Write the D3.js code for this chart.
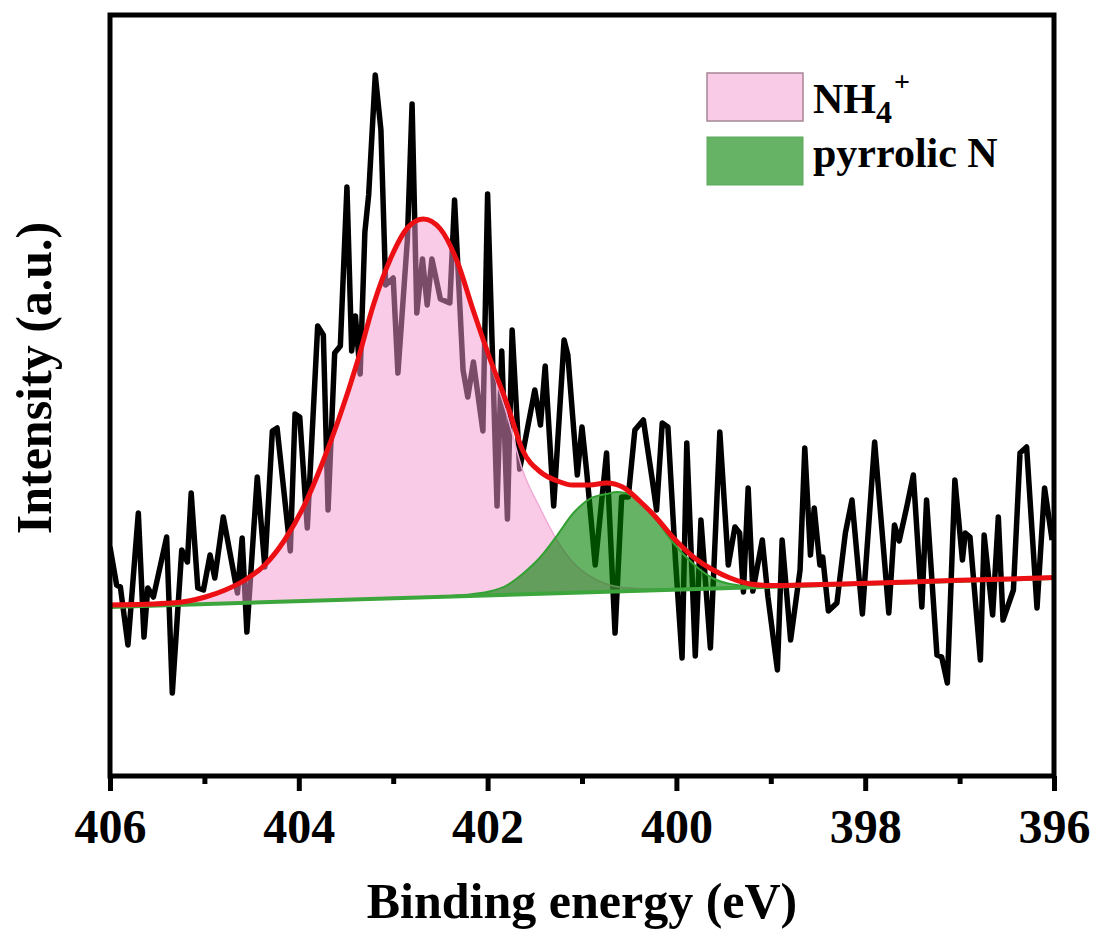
<!DOCTYPE html>
<html><head><meta charset="utf-8">
<script src="https://cdn.jsdelivr.net/npm/d3@7"></script>
<style>
body{margin:0;background:#fff}
text{font-family:"Liberation Serif","Times New Roman",serif;font-weight:bold;fill:#000}
</style>
</head><body>
<svg id="c" width="1098" height="936"></svg>
<script>
// Raw spectrum (binding energy, eV / intensity, a.u.)
const spectrumE = [406.00,405.93,405.89,405.81,405.70,405.64,405.60,405.54,405.40,405.34,
405.24,405.18,405.14,405.07,405.01,404.94,404.89,404.80,404.65,404.60,
404.55,404.44,404.36,404.28,404.23,404.09,404.04,403.99,403.91,403.80,
403.74,403.69,403.62,403.56,403.49,403.44,403.40,403.35,403.30,403.26,
403.19,403.13,403.08,403.00,402.95,402.85,402.80,402.75,402.69,402.64,
402.59,402.50,402.40,402.35,402.26,402.21,402.15,402.05,402.00,401.90,
401.85,401.79,401.74,401.66,401.50,401.44,401.39,401.30,401.19,401.15,
401.05,401.00,400.95,400.86,400.74,400.65,400.58,400.51,400.44,400.35,
400.26,400.21,400.15,400.09,400.01,399.94,399.89,399.80,399.74,399.64,
399.54,399.45,399.38,399.33,399.29,399.24,399.19,399.09,399.03,398.93,
398.88,398.79,398.69,398.64,398.58,398.54,398.48,398.45,398.39,398.30,
398.21,398.14,398.03,397.90,397.75,397.69,397.64,397.56,397.49,397.40,
397.35,397.24,397.19,397.13,397.05,396.97,396.94,396.89,396.78,396.74,
396.65,396.59,396.54,396.43,396.36,396.29,396.18,396.10,396.02];
const spectrumI = [228,190,188,130,262,138,187,178,238,82,
225,213,282,187,185,220,197,258,182,237,
143,298,208,344,347,224,361,358,247,449,
440,265,422,429,588,424,459,401,543,580,
700,645,490,497,402,535,671,462,516,470,
516,476,472,575,405,378,413,344,581,269,
424,256,445,306,385,350,409,269,435,420,
300,348,303,210,322,142,278,278,345,355,
298,265,352,348,215,117,332,119,255,127,
343,210,248,242,183,287,184,235,178,105,
235,135,205,327,220,267,210,218,164,172,
242,275,161,333,162,250,234,268,300,168,
275,120,118,92,295,215,242,238,115,240,
160,258,155,185,322,328,167,287,235];

// Fitted envelope (red)
const envE = [406.00,405.34,404.99,404.78,404.57,404.36,404.15,403.93,403.75,403.58,403.38,403.21,403.03,402.85,402.68,402.50,402.32,402.15,401.97,401.79,401.63,401.44,401.26,401.10,400.92,400.74,400.57,400.39,400.21,400.04,399.82,399.61,399.43,399.22,399.01,398.69,398.16,397.10,396.00];
const envI = [170,172,178,185,195,210,235,272,312,355,413,470,516,547,556,546,513,464,415,370,325,303,294,290,290,292,288,274,257,238,218,205,197,191,189.5,190,191.2,194.4,197.4];

// NH4+ component (pink)
const nh4E = [406.00,405.34,404.99,404.78,404.57,404.36,404.15,403.93,403.75,403.58,403.38,403.21,403.03,402.85,402.68,402.50,402.32,402.15,401.97,401.79,401.63,401.44,401.26,401.10,400.92,400.74,400.57,400.28,399.75];
const nh4I = [170,172,178,185,195,210,235,272,312,355,413,470,516,547,556,546,513,462,411,359,305,266,234,213,199,191,187.5,186,186.2];

// pyrrolic N component (green)
const pyrE = [402.50,402.15,401.97,401.79,401.63,401.44,401.26,401.10,400.92,400.74,400.63,400.46,400.39,400.21,400.04,399.82,399.61,399.43,399.22,398.90];
const pyrI = [178.6,181,183.7,190,201,218,240,261,276,281,283,279,273,255,233,211,196.5,191,189,188.7];

// Linear background
const bgE = [406, 396];
const bgI = [168, 197];

const xTicks = [406,404,402,400,398,396];
const xMinor = [405,403,401,399,397];
const legendLabels = ["NH4+","pyrrolic N"];

const svg = d3.select("#c");
const L=110, R=1054, T=15, B=776;
const x = d3.scaleLinear().domain([406,396]).range([L,R]);
const y = d3.scaleLinear().domain([0,760]).range([775,15]);
const bg = d3.scaleLinear().domain(bgE).range(bgI);

svg.append("defs").append("clipPath").attr("id","clip")
  .append("rect").attr("x",L).attr("y",T).attr("width",R-L).attr("height",B-T);
const g = svg.append("g").attr("clip-path","url(#clip)");

const spec = spectrumE.map((e,i)=>({e, v:spectrumI[i]}));
const env = envE.map((e,i)=>({e, v:envI[i]}));
const nh4 = nh4E.map((e,i)=>({e, v:nh4I[i]}));
const pyr = pyrE.map((e,i)=>({e, v:pyrI[i]}));

// raw data
g.append("path").datum(spec)
  .attr("d", d3.line().x(d=>x(d.e)).y(d=>y(d.v)))
  .attr("fill","none").attr("stroke","#000").attr("stroke-width",5.5)
  .attr("stroke-linejoin","round");

const PINK = "rgb(246,152,206)", GREEN = "rgb(0,128,0)";
// NH4+ area
g.append("path").datum(nh4)
  .attr("d", d3.area().curve(d3.curveMonotoneX).x(d=>x(d.e)).y0(d=>y(bg(d.e))).y1(d=>y(d.v)))
  .attr("fill",PINK).attr("fill-opacity",0.5)
  .attr("stroke","rgb(240,170,215)").attr("stroke-width",1.5);
// pyrrolic N area
g.append("path").datum(pyr)
  .attr("d", d3.area().curve(d3.curveMonotoneX).x(d=>x(d.e)).y0(d=>y(bg(d.e))).y1(d=>y(d.v)))
  .attr("fill",GREEN).attr("fill-opacity",0.6)
  .attr("stroke","rgb(50,160,50)").attr("stroke-width",2);
// background line
g.append("path").datum(bgE.map((e,i)=>({e,v:bgI[i]})))
  .attr("d", d3.line().x(d=>x(d.e)).y(d=>y(d.v)))
  .attr("stroke","rgb(60,165,60)").attr("stroke-width",4).attr("fill","none");
// envelope
g.append("path").datum(env)
  .attr("d", d3.line().curve(d3.curveMonotoneX).x(d=>x(d.e)).y(d=>y(d.v)))
  .attr("fill","none").attr("stroke","rgb(236,16,20)").attr("stroke-width",5);

// frame
svg.append("rect").attr("x",L).attr("y",T).attr("width",R-L).attr("height",B-T)
  .attr("fill","none").attr("stroke","#000").attr("stroke-width",5);

// x axis
const ax = svg.append("g").attr("transform",`translate(0,${B})`);
ax.call(d3.axisBottom(x).tickValues(xTicks).tickSize(15).tickFormat(d3.format("d")));
ax.select(".domain").remove();
ax.selectAll(".tick line").attr("stroke","#000").attr("stroke-width",5);
ax.selectAll(".tick text").attr("font-size",48).attr("dy",null).attr("y",67)
  .style("font-family","'Liberation Serif','Times New Roman',serif").style("font-weight","bold");
const axm = svg.append("g").attr("transform",`translate(0,${B})`);
axm.call(d3.axisBottom(x).tickValues(xMinor).tickSize(8).tickFormat(""));
axm.select(".domain").remove();
axm.selectAll(".tick line").attr("stroke","#000").attr("stroke-width",5);

// titles
svg.append("text").attr("x",(L+R)/2).attr("y",918).attr("text-anchor","middle")
  .attr("font-size",50).text("Binding energy (eV)");
svg.append("text").attr("transform","translate(51,378) rotate(-90)").attr("text-anchor","middle")
  .attr("font-size",50).text("Intensity (a.u.)");

// legend
const lg = svg.append("g");
lg.append("rect").attr("x",707).attr("y",73).attr("width",96).attr("height",48)
  .attr("fill",PINK).attr("fill-opacity",0.5).attr("stroke","rgb(165,135,150)").attr("stroke-width",1.5);
lg.append("rect").attr("x",707).attr("y",137).attr("width",96).attr("height",48)
  .attr("fill",GREEN).attr("fill-opacity",0.6).attr("stroke","rgb(90,170,90)").attr("stroke-width",1);
const t1 = lg.append("text").attr("x",813).attr("y",113).attr("font-size",42);
t1.append("tspan").text("NH");
t1.append("tspan").attr("font-size",32).attr("dy",10).text("4");
t1.append("tspan").attr("font-size",28).attr("dy",-32).attr("dx",2).text("+");
lg.append("text").attr("x",813).attr("y",167).attr("font-size",42).text(legendLabels[1]);
</script>
</body></html>
